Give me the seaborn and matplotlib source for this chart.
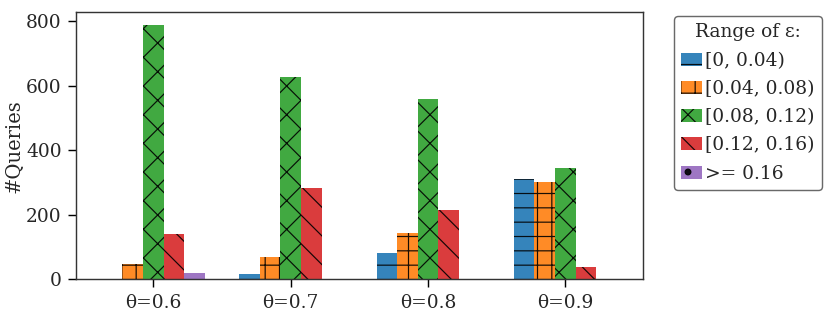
import matplotlib

matplotlib.use("Agg")
import matplotlib.pyplot as plt
import pandas as pd
import seaborn as sns

# --- data ------------------------------------------------------------------
thetas = ["θ=0.6", "θ=0.7", "θ=0.8", "θ=0.9"]
ranges = ["[0, 0.04)", "[0.04, 0.08)", "[0.08, 0.12)", "[0.12, 0.16)", ">= 0.16"]
r_0_004 = [0, 16, 82, 312]
r_004_008 = [47, 69, 143, 301]
r_008_012 = [788, 628, 559, 346]
r_012_016 = [140, 283, 214, 38]
r_ge_016 = [20, 0, 0, 0]

hatches = ["--", "++", "xx", "\\\\", "."]
colors = sns.color_palette("tab10", 5)
FS = 7.8

series = [r_0_004, r_004_008, r_008_012, r_012_016, r_ge_016]
df = pd.DataFrame(
    [(t, r, v) for r, vals in zip(ranges, series) for t, v in zip(thetas, vals)],
    columns=["theta", "range", "count"],
)

sns.set_style("ticks")
plt.rcParams["font.family"] = ["DejaVu Serif"]
plt.rcParams["hatch.linewidth"] = 0.5
plt.rcParams["font.size"] = FS

fig = plt.figure(figsize=(830 / 172, 315 / 172), dpi=172)
ax = fig.add_axes([0.0916, 0.1133, 0.6827, 0.8477])

sns.barplot(data=df, x="theta", y="count", hue="range", order=thetas,
            hue_order=ranges, palette=colors, saturation=1, alpha=0.9,
            width=0.75, edgecolor="black", linewidth=0, legend=False, ax=ax)

for cont, h in zip(ax.containers, hatches):
    for bar in cont:
        bar.set_hatch(h)

ax.set_xlim(-0.5625, 3.5625)
ax.set_ylim(0, max(r_008_012) * 1.05)
ax.set_yticks([0, 200, 400, 600, 800])
ax.set_xlabel("")
ax.set_ylabel("#Queries", fontsize=8.2, labelpad=1)
ax.tick_params(labelsize=FS, width=0.6, length=3.5, color="black", pad=2.5)
for s in ax.spines.values():
    s.set_linewidth(0.6)
    s.set_color("#333333")

leg = ax.legend(ax.containers, ranges, title="Range of ε:", loc="upper left",
                bbox_to_anchor=(1.055, 0.986), borderaxespad=0,
                handlelength=1.1, handletextpad=0.15, labelspacing=0.55,
                fontsize=FS, title_fontsize=FS, frameon=True, fancybox=True)
leg.get_frame().set_edgecolor("#444444")
leg.get_frame().set_linewidth(0.6)

fig.savefig("out.png", dpi=172)
